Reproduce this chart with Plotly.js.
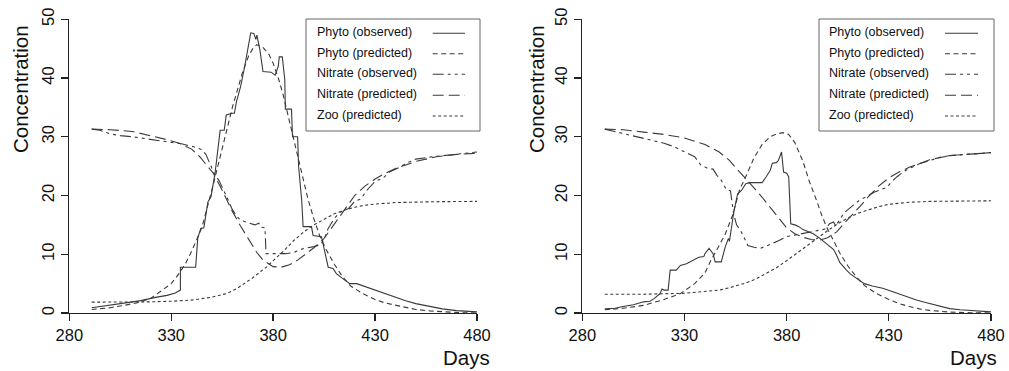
<!DOCTYPE html>
<html>
<head>
<meta charset="utf-8">
<script src="https://cdn.plot.ly/plotly-3.0.1.min.js"></script>
<style>html,body{margin:0;padding:0;background:#fff;}#chart{width:1009px;height:371px;}</style>
</head>
<body>
<div id="chart"></div>
<script>
// ---------- Data ----------
const seriesNames = ['Phyto (observed)', 'Phyto (predicted)', 'Nitrate (observed)', 'Nitrate (predicted)', 'Zoo (predicted)'];
const xTickVals = [280, 330, 380, 430, 480];
const yTickVals = [0, 10, 20, 30, 40, 50];

// Left panel
const leftPhytoObsDays = [291,300,305,311,315,320,323,328,332,334.5,334.5,342,343,344.5,346,348,349.5,351.5,353,354,356,357,360,361,362,364,366,367,368,369,370.5,371.5,372,373.5,375,379,381,382.5,383,384.5,385.7,386,389,389.5,392,392.5,394,394.7,398.8,399.6,403.7,404.5,406,407,409.4,411,414,417.6,421,425,430,435,440,445,450,457,463,470,480];
const leftPhytoObs     = [0.9,1.3,1.6,1.9,2.1,2.5,2.7,3.0,3.4,3.9,7.8,7.8,12.7,14.4,14.5,18.9,19.8,23.8,28.3,31.1,31.1,33.7,34.0,34.0,36.0,38.5,41.9,43.9,46.0,47.7,47.6,46.6,47.3,44.8,41.1,41.0,40.5,42.0,43.6,43.6,39.7,34.7,34.7,30.0,30.0,24.9,19.2,14.7,14.7,13.2,13.0,11.8,9.5,7.8,7.6,6.7,5.9,5.0,5.0,4.5,3.9,3.3,2.6,2.1,1.6,1.05,0.7,0.4,0.2];

const leftPhytoPredDays = [291,300,307,314,320,327,330,334,337,340,345,350,355,360,365,368,370,372,375,378,380,383,385,388,391,394,397,400,403,406,410,414,418,424,430,435,440,445,450,457,465,472,480];
const leftPhytoPred     = [0.6,0.9,1.3,1.8,2.5,4.2,5.0,6.8,8.4,10.5,14.5,21,28,35,41,43.8,45,45.7,45.2,44,42.5,39.5,37,32.5,28.5,24,19.5,16,13,10.8,8.3,6.2,4.6,3.3,2.3,1.7,1.3,0.9,0.6,0.35,0.15,0.05,0];

const leftNitrateObsDays = [291,295,300,305,311,317,323,330,335,341,345,347,349,351,353.5,356,358,360,362,364,368,371,373,374,376,376.5,381,386,390,395,400,403,405,407,410,413,417,420,423,426,430,434,437,442,446,450,458,465,472,480];
const leftNitrateObs     = [31.3,31.1,30.5,30.2,30.0,29.7,29.4,29.0,28.8,28.3,27.8,27.0,25.3,23.8,22.5,20.8,19.2,17.6,16.5,15.8,15.4,15.0,15.3,14.6,14.5,10.1,10.1,10.1,10.3,11.0,11.3,11.6,12.5,14.4,16.1,17.2,17.8,19.0,19.4,20.9,22.4,23.0,24.0,24.8,25.6,26.2,26.6,26.9,27.1,27.4];

const leftNitratePredDays = [291,300,311,320,328,334,340,344,347,350.6,355,360,364,368.6,372,375,380,384,388,392,396,400,405,410,415,420,425,430,435,440,450,460,470,480];
const leftNitratePred     = [31.3,31.2,30.9,30.2,29.5,28.9,27.9,26.6,25.4,23.8,20.9,17.3,14.8,12.1,10.3,9.0,7.9,7.8,8.2,9.0,10.1,11.1,12.7,15.2,17.6,20.0,21.6,22.8,23.8,24.6,25.8,26.6,27.0,27.2];

const leftZooPredDays = [291,300,320,330,340,350,357,362,366,370,374,377,380,385,390,395,400,405,410,415,420,425,430,440,450,460,480];
const leftZooPred     = [1.85,1.85,1.9,2.0,2.2,2.7,3.3,4.1,5.0,6.0,7.1,7.9,8.9,10.5,12.3,13.8,15.0,16.0,16.9,17.5,18.0,18.35,18.55,18.8,18.9,18.95,19.0];

// Right panel
const rightPhytoObsDays = [291,296,300,305,310,313,315,317,318,319,320,322,323,326,328,331,334,337,339.5,340,342,344,345,348,350,351.5,352,353,354,356,358,360,362,366,368,370,372,373,375,376,377.5,378.5,380,381,382,384,386,388,391.4,393,396.3,398,401.2,403,404.5,406,409.3,411,413,415.8,418,422,427,432,437,443.5,448,453,459.8,465,470,475,480];
const rightPhytoObs     = [0.7,0.8,1.1,1.4,1.9,2.0,2.4,3.0,3.3,4.1,3.9,3.9,7.3,7.3,8.1,8.4,9.0,9.5,9.6,10.1,11.0,10.1,8.7,8.7,11.3,12.7,12.2,14.7,16.9,20.3,20.9,22.0,22.2,22.2,22.2,23.2,24.3,25.5,25.6,26.0,27.4,24.0,23.8,23.2,15.2,15.0,14.7,14.2,13.8,13.5,12.7,12.2,11.3,10.8,9.8,8.6,7.3,6.7,6.2,5.6,5.0,4.6,4.2,3.6,3.0,2.2,1.8,1.3,0.75,0.55,0.4,0.3,0.2];

const rightPhytoPredDays = [291,300,310,320,328,335,340,343,347,350,353.5,357,360,364,368,372,375,378.3,381,384,388,391,394.6,397,399.5,403,406,410,414.2,418,424,430,435,440,445,450,455,460,470,480];
const rightPhytoPred     = [0.55,0.8,1.3,2.3,3.3,5.0,6.8,9.0,11.5,13.5,16.6,21,23.2,26.4,28.7,30.0,30.5,30.7,30.4,29.0,25.8,22.5,19.2,16.8,14.7,12.2,10.2,8.0,6.1,4.7,3.3,2.3,1.6,1.1,0.7,0.45,0.25,0.15,0.05,0];

const rightNitrateObsDays = [291,296,300,305,310,315,320,325,330,335,338,341.5,344,346,348,350.5,352.5,354,355.5,357.5,359,361,364,367,370,373,376,380,384,388,392,396,399,401,403,404,406,408,411,413.5,416,418,420,423,426,429,431,434,437,440,445,450,455,460,470,480];
const rightNitrateObs     = [31.3,30.9,30.5,30.1,29.8,29.4,28.9,28.3,27.5,26.6,25.2,24.6,24.5,23.4,22.6,21.0,20.8,17.0,15.0,14.0,13.0,11.5,11.2,11.0,11.4,11.8,12.3,13.0,13.3,13.6,13.9,14.1,14.3,15.2,15.5,14.8,16.0,17.0,17.9,18.6,19.3,19.6,20.0,20.6,21.0,21.4,22.2,23.2,24.0,24.6,25.4,26.0,26.5,26.8,27.1,27.3];

const rightNitratePredDays = [291,300,310,320,330,340,347,352,356,360,364,368,372,376,380,384,388,392,396,400,404.5,408,412.5,416,420,425,430,435,440,445,450,460,470,480];
const rightNitratePred     = [31.3,31.2,30.8,30.4,29.8,28.7,27.4,26.0,24.4,22.9,21.3,19.7,18.0,16.2,14.5,13.5,12.9,12.5,12.4,12.8,13.8,15.2,16.8,18.2,19.8,21.6,23.0,24.0,24.8,25.5,26.1,26.8,27.1,27.3];

const rightZooPredDays = [291,310,330,340,347,352,356,360,365,370,375,380,385,390,395,400,405,410,415,420,425,430,440,450,460,480];
const rightZooPred     = [3.2,3.2,3.35,3.6,3.9,4.3,4.7,5.1,5.8,6.7,7.7,8.9,10.2,11.5,12.8,14.0,15.2,16.2,17.0,17.6,18.1,18.5,18.85,19.0,19.05,19.1];

// ---------- Styles ----------
const lineColor = '#3a3a3a';
const dashes = ['solid', '5px,3.5px', '11px,4px,3px,4px,3px,4px', '11px,5px', '3px,2.5px'];
const W = 1009, H = 371;
const FONT = 'Liberation Sans, Arial, Helvetica, sans-serif';

function mk(x, y, i, xa, ya) {
  return {x: x, y: y, type: 'scatter', mode: 'lines', xaxis: xa, yaxis: ya,
          name: seriesNames[i], showlegend: false, hoverinfo: 'skip',
          line: {color: lineColor, width: 1.1, dash: dashes[i]}};
}

const traces = [
  mk(leftPhytoObsDays, leftPhytoObs, 0, 'x', 'y'),
  mk(leftPhytoPredDays, leftPhytoPred, 1, 'x', 'y'),
  mk(leftNitrateObsDays, leftNitrateObs, 2, 'x', 'y'),
  mk(leftNitratePredDays, leftNitratePred, 3, 'x', 'y'),
  mk(leftZooPredDays, leftZooPred, 4, 'x', 'y'),
  mk(rightPhytoObsDays, rightPhytoObs, 0, 'x2', 'y2'),
  mk(rightPhytoPredDays, rightPhytoPred, 1, 'x2', 'y2'),
  mk(rightNitrateObsDays, rightNitrateObs, 2, 'x2', 'y2'),
  mk(rightNitratePredDays, rightNitratePred, 3, 'x2', 'y2'),
  mk(rightZooPredDays, rightZooPred, 4, 'x2', 'y2')
];

function xAxis(d0, d1, anchor) {
  return {domain: [d0 / W, d1 / W], anchor: anchor, range: [280, 480], tickvals: xTickVals,
          ticktext: xTickVals.map(String), ticks: 'outside', ticklen: 7, tickwidth: 1.3, tickcolor: '#222',
          showline: true, linecolor: '#222', linewidth: 1.3, showgrid: false, zeroline: false,
          tickfont: {family: FONT, size: 16.5, color: '#111'}, fixedrange: true};
}
function yAxis(anchor) {
  return {domain: [(H - 313) / H, (H - 19.3) / H], anchor: anchor, range: [0, 50], tickvals: yTickVals,
          ticktext: yTickVals.map(String), ticks: 'outside', ticklen: 7, tickwidth: 1.3, tickcolor: '#222',
          showline: true, linecolor: '#222', linewidth: 1.3, showgrid: false, zeroline: false, tickangle: -90,
          tickfont: {family: FONT, size: 16.5, color: '#111'}, fixedrange: true};
}

const px = v => v / W, py = v => 1 - v / H;
const annotations = [];
const shapes = [];
const panels = [
  {ylabX: 21, daysX: 466, boxL: 306, boxR: 480, textX: 315, s0: 432.7, s1: 465},
  {ylabX: 537, daysX: 973.5, boxL: 819, boxR: 994, textX: 827.3, s0: 945, s1: 978}
];
const rowY = [32.3, 52.7, 73.3, 94.3, 115];
panels.forEach(p => {
  annotations.push({xref: 'paper', yref: 'paper', x: px(p.ylabX), y: py(89), text: 'Concentration',
    textangle: -90, showarrow: false, xanchor: 'center', yanchor: 'middle',
    font: {family: FONT, size: 20.5, color: '#111'}});
  annotations.push({xref: 'paper', yref: 'paper', x: px(p.daysX), y: py(357), text: 'Days',
    showarrow: false, xanchor: 'center', yanchor: 'middle', font: {family: FONT, size: 20.5, color: '#111'}});
  shapes.push({type: 'rect', xref: 'paper', yref: 'paper', x0: px(p.boxL), x1: px(p.boxR), y0: py(19), y1: py(131),
    line: {color: '#666', width: 1}, fillcolor: 'rgba(0,0,0,0)'});
  seriesNames.forEach((name, i) => {
    annotations.push({xref: 'paper', yref: 'paper', x: px(p.textX), y: py(rowY[i]), text: name, showarrow: false,
      xanchor: 'left', yanchor: 'middle', font: {family: FONT, size: 12.5, color: '#111'}});
    shapes.push({type: 'line', xref: 'paper', yref: 'paper', x0: px(p.s0), x1: px(p.s1), y0: py(rowY[i] + 1), y1: py(rowY[i] + 1),
      line: {color: lineColor, width: 1.1, dash: dashes[i]}});
  });
});

const layout = {
  width: W, height: H, autosize: false,
  margin: {l: 0, r: 0, t: 0, b: 0, pad: 0},
  paper_bgcolor: '#fff', plot_bgcolor: '#fff', showlegend: false,
  xaxis: xAxis(69.3, 477, 'y'), yaxis: yAxis('x'),
  xaxis2: xAxis(582.3, 991, 'y2'), yaxis2: yAxis('x2'),
  annotations: annotations, shapes: shapes
};
layout.yaxis2.domain = layout.yaxis.domain;

Plotly.newPlot('chart', traces, layout, {staticPlot: true, displayModeBar: false});
</script>
</body>
</html>
